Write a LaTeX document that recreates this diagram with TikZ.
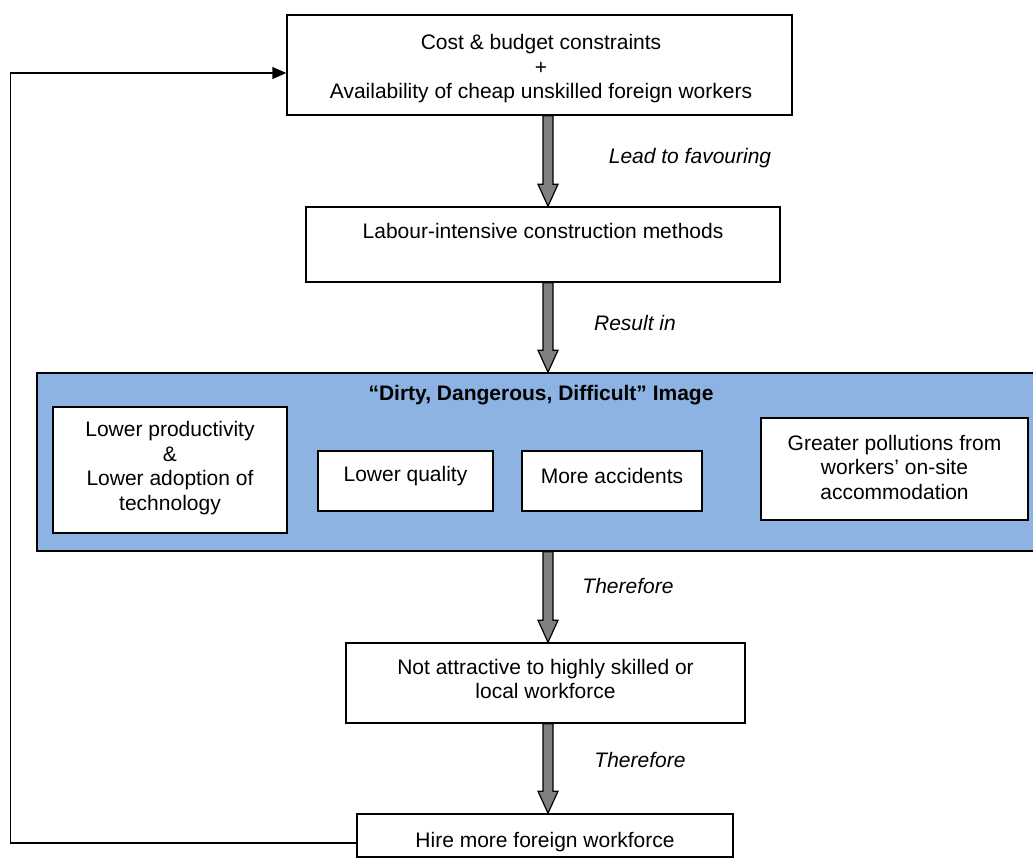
\documentclass[tikz,border=0pt]{standalone}
\usepackage{fontspec}
\setmainfont{Liberation Sans}
\usetikzlibrary{calc,arrows.meta}

\definecolor{panelblue}{HTML}{8DB3E2}
\definecolor{arrowgray}{HTML}{808080}

\tikzset{
  box/.style={draw=black, fill=white, line width=1.5pt, inner sep=0pt, rectangle},
  panel/.style={draw=black, fill=panelblue, line width=1.5pt, inner sep=0pt, rectangle},
  txt/.style={align=center, inner sep=0pt, font=\fontsize{21}{24.5}\selectfont},
  headtxt/.style={txt, font=\fontsize{21}{24.5}\selectfont\bfseries},
  steplabel/.style={inner sep=0pt, font=\fontsize{21}{24.5}\selectfont\itshape},
  barrow/.style={draw=black, fill=arrowgray, line width=1.2pt, line join=miter},
  feedback/.style={draw=black, line width=1.5pt, -{Triangle[length=14pt,width=12pt]}}
}

% gray block arrow running straight down from one node to the next
\newcommand\blockarrow[2]{%
  \path[barrow] let \p1=(#1.south), \p2=(#2.north) in
    (543pt,\y1) -- (543pt,\y2+22pt) -- (538pt,\y2+22pt) -- (548pt,\y2)
    -- (558pt,\y2+22pt) -- (553pt,\y2+22pt) -- (553pt,\y1) -- cycle;}

\begin{document}
\begin{tikzpicture}[x=1pt,y=-1pt]
\useasboundingbox (0,0) rectangle (1033,866);

% main chain of boxes
\node[box, minimum width=505pt, minimum height=100pt] (top) at (539.5,65) {};
\node[txt] (topT) at (541,69) {Cost \& budget constraints\\+\\Availability of cheap unskilled foreign workers};

\node[box, minimum width=474pt, minimum height=75pt] (lab) at (543,244.5) {};
\node[txt] (labT) at (543,231) {Labour-intensive construction methods};

% "3D" image panel with its four effects
\node[panel, minimum width=1003pt, minimum height=178pt] (pan) at (538.5,462) {};
\node[headtxt] (panT) at (541,395) {“Dirty, Dangerous, Difficult” Image};

\node[box, minimum width=234pt, minimum height=126pt] (lp) at (170,470) {};
\node[txt] (lpT) at (170,468) {Lower productivity\\\&\\Lower adoption of\\technology};

\node[box, minimum width=175pt, minimum height=60pt] (lq) at (405.5,481) {};
\node[txt] (lqT) at (405.5,476) {Lower quality};

\node[box, minimum width=180pt, minimum height=60pt] (ma) at (612,481) {};
\node[txt] (maT) at (612,476) {More accidents};

\node[box, minimum width=267pt, minimum height=102pt] (gp) at (894.5,469) {};
\node[txt] (gpT) at (894.5,467) {Greater pollutions from\\workers’ on-site\\accommodation};

\node[box, minimum width=399pt, minimum height=80pt] (na) at (545.5,683) {};
\node[txt] (naT) at (545.5,679) {Not attractive to highly skilled or\\local workforce};

\node[box, minimum width=376pt, minimum height=43pt] (hire) at (545,835.5) {};
\node[txt] (hireT) at (545,842) {Hire more foreign workforce};

% downward block arrows
\blockarrow{top}{lab}
\blockarrow{lab}{pan}
\blockarrow{pan}{na}
\blockarrow{na}{hire}

% arrow captions
\node[steplabel] (l1) at (690,158) {Lead to favouring};
\node[steplabel] (l2) at (635,323) {Result in};
\node[steplabel] (l3) at (628,586) {Therefore};
\node[steplabel] (l4) at (640,760) {Therefore};

% feedback loop back to the top
\draw[feedback] ([yshift=-7.5pt]hire.west) -- ++(-346,0) |- ([yshift=-8pt]top.west);
\end{tikzpicture}
\end{document}
